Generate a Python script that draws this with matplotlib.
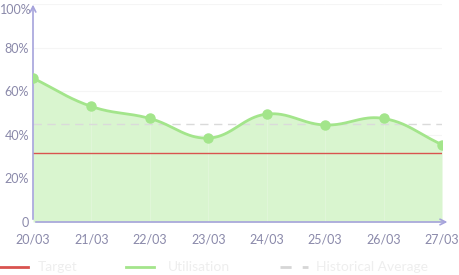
import numpy as np
import matplotlib.pyplot as plt
from matplotlib.lines import Line2D
from matplotlib.transforms import ScaledTranslation

plt.rcParams['font.family'] = ['Lato', 'DejaVu Sans']

dates = ["20/03", "21/03", "22/03", "23/03", "24/03", "25/03", "26/03", "27/03"]
utilisation = [66, 53, 47.5, 38.5, 49.5, 44.5, 47.5, 35.5]
target = 31.5
hist_avg = 45
y_ticks = [0, 20, 40, 60, 80, 100]
y_labels = ["0", "20%", "40%", "60%", "80%", "100%"]

green = "#a3e58b"
fill_green = "#d9f5cf"
red = "#d9534f"
axis_col = "#a6a3dc"
label_col = "#8a89aa"


def spline(xs, ys, sx, sy, t=0.4, n=40):
    # bezier like chart.js tension curves, in pixel-ish scale
    px = np.array(xs) * sx
    py = np.array(ys) * sy
    m = len(px)
    cp_in, cp_out = [], []
    for i in range(m):
        p0 = (px[max(i - 1, 0)], py[max(i - 1, 0)])
        p1 = (px[i], py[i])
        p2 = (px[min(i + 1, m - 1)], py[min(i + 1, m - 1)])
        d01 = np.hypot(p1[0] - p0[0], p1[1] - p0[1])
        d12 = np.hypot(p2[0] - p1[0], p2[1] - p1[1])
        tot = d01 + d12
        s01 = d01 / tot if tot else 0
        s12 = d12 / tot if tot else 0
        fa, fb = t * s01, t * s12
        cp_in.append((p1[0] - fa * (p2[0] - p0[0]), p1[1] - fa * (p2[1] - p0[1])))
        cp_out.append((p1[0] + fb * (p2[0] - p0[0]), p1[1] + fb * (p2[1] - p0[1])))
    ox, oy = [], []
    u = np.linspace(0, 1, n)
    for i in range(m - 1):
        a = np.array([px[i], py[i]])
        b = np.array(cp_out[i])
        c = np.array(cp_in[i + 1])
        d = np.array([px[i + 1], py[i + 1]])
        pts = ((1 - u) ** 3)[:, None] * a + (3 * (1 - u) ** 2 * u)[:, None] * b \
            + (3 * (1 - u) * u ** 2)[:, None] * c + (u ** 3)[:, None] * d
        ox.extend(pts[:, 0])
        oy.extend(pts[:, 1])
    return np.array(ox) / sx, np.array(oy) / sy


fig = plt.figure(figsize=(4.6, 2.75), dpi=100)
ax = fig.add_axes([33 / 460, 53 / 275, 409 / 460, 218 / 275])

x = np.arange(len(dates))
cx, cy = spline(x, utilisation, 58.4, 2.18)

ax.fill_between(cx, 0, cy, color=fill_green, lw=0, zorder=1)
for yt in y_ticks[1:]:
    ax.axhline(yt, color="#f5f5f5", lw=0.8, zorder=0.5)
for xi in x[1:]:
    ax.axvline(xi, color="white", lw=0.8, alpha=0.2, zorder=1.5)
ax.axhline(target, color=red, lw=1, zorder=2)
ax.axhline(hist_avg, color="#dadada", lw=1, ls=(0, (6, 4)), zorder=2)
ax.plot(cx, cy, color=green, lw=2, zorder=3)
ax.plot(x, utilisation, "o", color=green, ms=6.5, zorder=4)

ax.set_xlim(0, 7)
ax.set_ylim(0, 100)
ax.set_xticks(x)
ax.set_xticklabels(dates)
ax.set_yticks(y_ticks)
ax.set_yticklabels(y_labels)
ax.tick_params(length=0, colors=label_col, labelsize=9, pad=8)
ax.tick_params(axis="y", pad=3)
# keep the top label inside the figure
top = ax.get_yticklabels()[-1]
top.set_transform(top.get_transform() + ScaledTranslation(3 / 100, -5 / 100, fig.dpi_scale_trans))
for s in ax.spines.values():
    s.set_visible(False)

# axes with arrows
ax.annotate("", xy=(0, 1.01), xytext=(0, 0), xycoords="axes fraction",
            arrowprops=dict(arrowstyle="->", color=axis_col, lw=1.2), annotation_clip=False)
ax.annotate("", xy=(1.02, 0), xytext=(0, 0), xycoords="axes fraction",
            arrowprops=dict(arrowstyle="->", color=axis_col, lw=1.2), annotation_clip=False)

# legend
leg = [("Target", red, "-", 0, 38), ("Utilisation", green, "-", 126, 168),
       ("Historical Average", "#d6d6d6", (0, (4, 4)), 280, 316)]
for name, col, ls, x0, tx in leg:
    fig.add_artist(Line2D([x0 / 460, (x0 + 28) / 460], [1 - 267 / 275] * 2,
                          color=col, lw=2, ls=ls))
    fig.text(tx / 460, 1 - 267 / 275, name, color="#eeeeee", fontsize=10, va="center")

fig.savefig("out.png", dpi=100)
